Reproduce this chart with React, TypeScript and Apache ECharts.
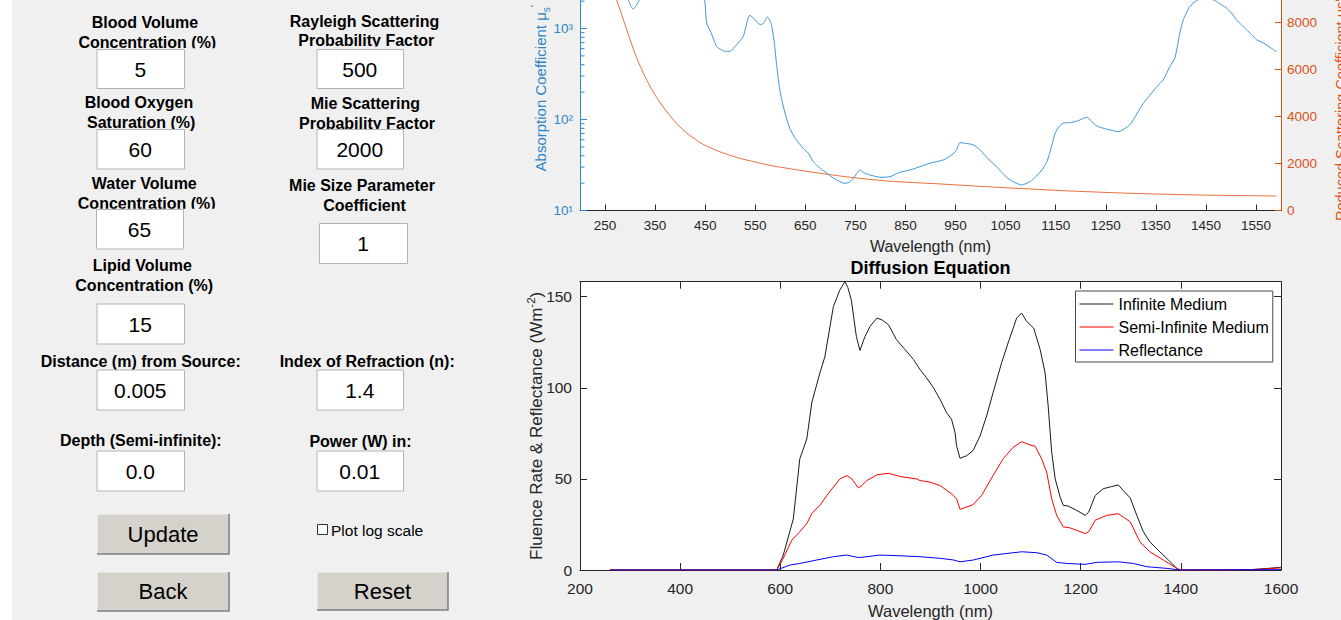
import React, { useEffect, useRef } from 'react';
import * as echarts from 'echarts';

const FONT = "'Liberation Sans', Arial, Helvetica, sans-serif";

// ---------- Top chart data: absorption (log axis) & reduced scattering ----------
const absorptionData: [number, number][] = [
  [200, 4200], [220, 3600], [240, 3100], [260, 2750], [280, 2400], [290, 2200], [296, 2075],
  [301, 1800], [306, 1640], [312, 1780], [319, 2075], [330, 2600], [350, 3300], [380, 4300],
  [415, 4800], [430, 4200], [442, 2700], [449, 2075], [453, 1148], [462, 891], [473, 635],
  [482, 585], [490, 560], [500, 565], [513, 664], [526, 818], [539, 1400], [550, 1250],
  [560, 1100], [567, 1150], [574, 1340], [580, 1200], [583, 1054], [588, 700], [593, 383],
  [598, 230], [603, 164], [610, 115], [619, 80], [630, 62], [646, 48], [656, 42.7], [666, 34.4],
  [680, 29], [693, 25.7], [710, 22], [729, 19.9], [738, 20.5], [746, 22.6], [759, 27.9],
  [767, 26], [779, 24.6], [799, 23.2], [819, 23.5], [839, 26.3], [860, 28], [879, 30.3],
  [899, 33.1], [926, 36], [945, 41.9], [952, 46.4], [959, 55.7], [972, 54.5], [986, 52.6],
  [999, 46.4], [1015, 37], [1032, 30.3], [1046, 25], [1059, 21.7], [1071, 20], [1082, 19.1],
  [1099, 20.8], [1112, 24], [1125, 29.1], [1133, 35], [1139, 44.4], [1149, 70.8], [1157, 84],
  [1165, 91.2], [1179, 92.5], [1195, 97], [1212, 106], [1222, 95], [1232, 85], [1252, 78.3],
  [1275, 73.7], [1298, 87.3], [1312, 115], [1325, 151], [1340, 190], [1352, 230], [1365, 273],
  [1378, 383], [1388, 473], [1398, 891], [1405, 1250], [1418, 1750], [1431, 2024], [1440, 2120],
  [1451, 2140], [1462, 2100], [1471, 1986], [1491, 1681], [1500, 1500], [1511, 1250],
  [1521, 1100], [1531, 970], [1541, 860], [1551, 754], [1565, 693], [1580, 610], [1592, 551],
];

const scatteringData: [number, number][] = [
  [200, 19000], [230, 14500], [250, 11800], [265, 9800], [273, 8986], [280, 8559], [296, 7535],
  [313, 6510], [330, 5699], [346, 5059], [363, 4504], [380, 4034], [396, 3637], [413, 3308],
  [430, 3040], [446, 2818], [463, 2647], [480, 2497], [513, 2262], [546, 2083], [580, 1921],
  [613, 1801], [646, 1690], [679, 1588], [712, 1490], [746, 1400], [812, 1259], [866, 1190],
  [919, 1131], [975, 1058], [1032, 990], [1100, 915], [1165, 845], [1230, 787], [1298, 734],
  [1365, 695], [1432, 662], [1510, 638], [1591, 619],
];

const topXTicks = [250, 350, 450, 550, 650, 750, 850, 950, 1050, 1150, 1250, 1350, 1450, 1550];
const rightYTicks = [0, 2000, 4000, 6000, 8000];
const minorLogTicks = [20, 30, 40, 50, 60, 70, 80, 90, 200, 300, 400, 500, 600, 700, 800, 900, 2000, 3000, 4000];

// ---------- Bottom chart data: diffusion equation ----------
const infiniteMedium: [number, number][] = [
  [260, 0], [400, 0], [500, 0], [593, 0], [606, 8.2], [626, 28], [639, 61], [653, 72], [663, 92],
  [679, 108], [689, 117], [706, 144.5], [719, 153.7], [729, 158.2], [735, 155], [742, 148],
  [752, 128], [759, 120.5], [769, 128], [779, 133.6], [793, 138.2], [803, 137.3], [816, 134.6],
  [832, 126.4], [849, 121], [866, 115.5], [879, 110], [892, 105.5], [906, 100], [919, 93.7],
  [932, 86.4], [942, 82.7], [949, 75.5], [952, 68.2], [959, 61.3], [972, 62.7], [985, 65.5],
  [999, 73.6], [1012, 84.5], [1025, 97.3], [1042, 113.7], [1055, 124.6], [1072, 138.2],
  [1082, 141], [1092, 136.4], [1106, 132.8], [1119, 121], [1129, 108], [1135, 90], [1142, 64.6],
  [1149, 50], [1159, 40], [1165, 35.5], [1175, 35.1], [1192, 32.7], [1209, 30], [1216, 31.8],
  [1229, 40.9], [1245, 44.6], [1262, 45.8], [1275, 46.7], [1285, 43.6], [1299, 39.5],
  [1312, 30], [1325, 21], [1338, 15.5], [1358, 10], [1375, 5.5], [1392, 0.9], [1398, 0],
  [1500, 0], [1540, 0.2], [1570, 0.8], [1600, 1.5],
];

const semiInfiniteMedium: [number, number][] = [
  [260, 0], [593, 0], [606, 6.4], [623, 16.4], [639, 21], [653, 25.5], [663, 31], [679, 35.5],
  [693, 40.9], [706, 45.5], [719, 50], [733, 51.8], [743, 50], [756, 45], [763, 46.4],
  [773, 49.1], [793, 52.2], [816, 53.1], [839, 51.3], [872, 50], [879, 49.1], [899, 48.2],
  [919, 46.4], [942, 41.8], [952, 39.1], [959, 33.3], [985, 35.8], [1002, 40.9], [1025, 51.8],
  [1045, 61], [1065, 67.3], [1082, 70.4], [1099, 68.6], [1109, 67.9], [1122, 61], [1132, 53.7],
  [1142, 39.1], [1152, 30], [1165, 23.7], [1179, 23.1], [1209, 20], [1216, 21], [1229, 27.3],
  [1252, 30], [1275, 30.9], [1299, 26.4], [1318, 15.5], [1338, 10], [1365, 5.5], [1392, 0.9],
  [1398, 0], [1500, 0], [1540, 0.2], [1570, 0.6], [1600, 1.2],
];

const reflectance: [number, number][] = [
  [260, 0], [593, 0], [619, 2.7], [639, 3.6], [673, 5.5], [706, 7.3], [733, 8.2], [756, 6.8],
  [773, 7.3], [799, 8.2], [839, 7.8], [879, 7.3], [919, 6.4], [946, 5.5], [959, 4.5], [986, 5.5],
  [1025, 8.2], [1082, 10], [1112, 9.5], [1132, 8.2], [1152, 4.2], [1172, 3.6], [1209, 3.1],
  [1232, 4.2], [1275, 4.5], [1305, 3.6], [1332, 1.8], [1372, 0.9], [1398, 0], [1600, 0.2],
];

const bottomYTicks = [0, 50, 100, 150];
const legendNames = ['Infinite Medium', 'Semi-Infinite Medium', 'Reflectance'];

// ---------- Form panel content ----------
const formLabels: [string, number, number, number | null][] = [
  ['Blood Volume', 145, 22.7, null],
  ['Concentration (%)', 147.3, 42.7, 48.3],
  ['Blood Oxygen', 139, 102.7, null],
  ['Saturation (%)', 141.2, 122.7, null],
  ['Water Volume', 144.3, 183.3, null],
  ['Concentration (%)', 146.7, 203.3, 208.8],
  ['Lipid Volume', 142.3, 265.7, null],
  ['Concentration (%)', 144.2, 285.7, null],
  ['Distance (m) from Source:', 140.7, 361, null],
  ['Depth (Semi-infinite):', 140.8, 440, null],
  ['Rayleigh Scattering', 364.5, 21.3, null],
  ['Probability Factor', 366.3, 40.7, 46.5],
  ['Mie Scattering', 365.3, 103.3, null],
  ['Probability Factor', 367, 123.3, 129],
  ['Mie Size Parameter', 362, 185.7, null],
  ['Coefficient', 364.5, 205.7, null],
  ['Index of Refraction (n):', 367.2, 361, null],
  ['Power (W) in:', 360.5, 441.7, null],
];

const formBoxes: [string, number, number, number, number][] = [
  ['5', 97, 49.5, 87.5, 39],
  ['60', 97, 129.5, 87.5, 39.5],
  ['65', 96.5, 209.5, 87, 39.5],
  ['15', 97, 304, 87.5, 40],
  ['0.005', 97, 370, 87.5, 40],
  ['0.0', 97, 451, 87.5, 40],
  ['500', 317, 49.5, 86.5, 39],
  ['2000', 317, 129.5, 86.5, 39.5],
  ['1', 319.5, 223.5, 88, 40],
  ['1.4', 317, 370, 86.5, 40],
  ['0.01', 317, 451, 86.5, 40],
];

const formButtons: [string, number, number, number, number][] = [
  ['Update', 97, 514, 132, 40],
  ['Back', 97, 572, 132, 39],
  ['Reset', 317, 572, 131, 38],
];

// The chart canvas starts OFFSET px above the window so the top plot can extend past its edge.
const OFFSET = 34;
const BLUE_AXIS = '#2f86c8';
const BLUE_LINE = '#3d98da';
const ORANGE_AXIS = '#d95319';
const ORANGE_LINE = '#ec6d3c';
const DARK = '#262626';
const SUP: Record<number, string> = { 0: '⁰', 1: '¹', 2: '²', 3: '³', 4: '⁴' };
const plain = (v: number) => String(v);

function buildGraphic() {
  const els: any[] = [];
  const Y = (y: number) => y + OFFSET;
  formLabels.forEach(([t, x, y, cut]) => {
    els.push({
      type: 'text', x, y: Y(y), z: 10,
      style: { text: t, fontSize: 16, fontWeight: 'bold', fontFamily: FONT, fill: '#000', align: 'center', verticalAlign: 'middle' },
    });
    if (cut != null) {
      els.push({ type: 'rect', z: 11, shape: { x: x - 90, y: Y(cut), width: 180, height: 7 }, style: { fill: '#f0f0f0' } });
    }
  });
  formBoxes.forEach(([v, x, y, w, h]) => {
    els.push({ type: 'rect', z: 12, shape: { x, y: Y(y), width: w, height: h }, style: { fill: '#ffffff', stroke: '#b4b4b4', lineWidth: 1 } });
    els.push({
      type: 'text', z: 13, x: x + w / 2 - 0.5, y: Y(y + h / 2),
      style: { text: v, fontSize: 21, fontFamily: FONT, fill: '#000', align: 'center', verticalAlign: 'middle' },
    });
  });
  formButtons.forEach(([t, x, y, w, h]) => {
    const yy = Y(y);
    els.push({ type: 'rect', z: 12, shape: { x, y: yy, width: w, height: h }, style: { fill: '#d5d1cb' } });
    els.push({ type: 'polyline', z: 13, shape: { points: [[x, yy + h], [x, yy], [x + w, yy]] }, style: { stroke: '#f4f4f4', lineWidth: 1, fill: null } });
    els.push({ type: 'polyline', z: 13, shape: { points: [[x, yy + h], [x + w, yy + h], [x + w, yy]] }, style: { stroke: '#7f7f7f', lineWidth: 1.5, fill: null } });
    els.push({
      type: 'text', z: 14, x: x + w / 2, y: yy + h / 2,
      style: { text: t, fontSize: 22, fontFamily: FONT, fill: '#000', align: 'center', verticalAlign: 'middle' },
    });
  });
  els.push({ type: 'rect', z: 12, shape: { x: 317.5, y: Y(524.5), width: 10, height: 10 }, style: { fill: '#ffffff', stroke: '#333333', lineWidth: 1 } });
  els.push({
    type: 'text', z: 12, x: 331, y: Y(530),
    style: { text: 'Plot log scale', fontSize: 15.5, fontFamily: FONT, fill: '#000', align: 'left', verticalAlign: 'middle' },
  });
  els.push({
    type: 'text', z: 12, x: 930.5, y: Y(268),
    style: { text: 'Diffusion Equation', fontSize: 18, fontWeight: 'bold', fontFamily: FONT, fill: '#000', align: 'center', verticalAlign: 'middle' },
  });
  els.push({
    type: 'text', z: 12, x: 1340.5, y: Y(221), rotation: Math.PI / 2,
    style: { text: "Reduced Scattering Coefficient μs'", fontSize: 14.5, fontFamily: FONT, fill: ORANGE_AXIS, align: 'left', verticalAlign: 'middle' },
  });
  return els;
}

function buildOption(): any {
  const tickLabel = (color: string, size: number) => ({ color, fontSize: size, fontFamily: FONT });
  return {
    animation: false,
    backgroundColor: 'transparent',
    grid: [
      { left: 580, right: 60, top: 0, height: 244.5, show: true, backgroundColor: '#ffffff', borderWidth: 0 },
      { left: 580, right: 60, top: 281.7 + OFFSET, height: 290, show: true, backgroundColor: '#ffffff', borderWidth: 0 },
    ],
    xAxis: [
      {
        gridIndex: 0, type: 'value', min: 200, max: 1600, position: 'bottom',
        axisLine: { show: true, onZero: false, lineStyle: { color: DARK, width: 1 } },
        axisTick: { show: true, inside: true, length: 6, customValues: topXTicks, lineStyle: { color: DARK } },
        axisLabel: { ...tickLabel(DARK, 13.5), margin: 8, customValues: topXTicks, formatter: plain },
        splitLine: { show: false },
        name: 'Wavelength (nm)', nameLocation: 'middle', nameGap: 28,
        nameTextStyle: { fontSize: 16, color: DARK, fontFamily: FONT },
      },
      {
        gridIndex: 1, type: 'value', min: 200, max: 1600, interval: 200, position: 'bottom',
        axisLine: { show: true, onZero: false, lineStyle: { color: DARK, width: 1 } },
        axisTick: { show: true, inside: true, length: 7, lineStyle: { color: DARK } },
        axisLabel: { ...tickLabel(DARK, 15.5), margin: 10, formatter: plain },
        splitLine: { show: false },
        name: 'Wavelength (nm)', nameLocation: 'middle', nameGap: 32,
        nameTextStyle: { fontSize: 16.5, color: DARK, fontFamily: FONT },
      },
      {
        gridIndex: 1, type: 'value', min: 200, max: 1600, interval: 200, position: 'top',
        axisLine: { show: true, onZero: false, lineStyle: { color: DARK, width: 1 } },
        axisTick: { show: true, inside: true, length: 7, lineStyle: { color: DARK } },
        axisLabel: { show: false },
        splitLine: { show: false },
      },
    ],
    yAxis: [
      {
        gridIndex: 0, type: 'log', logBase: 10, min: 10, max: 4865, position: 'left',
        axisLine: { show: true, lineStyle: { color: BLUE_AXIS, width: 1 } },
        axisTick: { show: true, inside: true, length: 7, lineStyle: { color: BLUE_AXIS } },
        axisLabel: {
          ...tickLabel(BLUE_AXIS, 13.5), margin: 7, showMaxLabel: false,
          formatter: (v: number) => '10' + (SUP[Math.round(Math.log10(v))] || ''),
        },
        splitLine: { show: false },
        name: "{a|Absorption Coefficient μ}{b|s}{c|'}", nameLocation: 'middle', nameGap: 29,
        nameMoveOverlap: false,
        nameTextStyle: {
          color: BLUE_AXIS, fontSize: 15, fontFamily: FONT,
          rich: {
            a: { color: BLUE_AXIS, fontSize: 15, fontFamily: FONT, lineHeight: 22 },
            b: { color: BLUE_AXIS, fontSize: 10, fontFamily: FONT, lineHeight: 10, verticalAlign: 'bottom' },
            c: { color: BLUE_AXIS, fontSize: 11, fontFamily: FONT, lineHeight: 11, verticalAlign: 'top' },
          },
        },
      },
      {
        gridIndex: 0, type: 'value', min: 0, max: 10416, position: 'right',
        axisLine: { show: true, onZero: false, lineStyle: { color: ORANGE_AXIS, width: 1 } },
        axisTick: { show: true, inside: true, length: 6, customValues: rightYTicks, lineStyle: { color: ORANGE_AXIS } },
        axisLabel: { ...tickLabel(ORANGE_AXIS, 13.5), margin: 6, customValues: rightYTicks, formatter: plain },
        splitLine: { show: false },
      },
      {
        gridIndex: 1, type: 'value', min: 0, max: 158.2, interval: 50, position: 'left',
        axisLine: { show: true, onZero: false, lineStyle: { color: DARK, width: 1 } },
        axisTick: { show: true, inside: true, length: 7, customValues: bottomYTicks, lineStyle: { color: DARK } },
        axisLabel: { ...tickLabel(DARK, 15.5), margin: 8, customValues: bottomYTicks, formatter: plain },
        splitLine: { show: false },
        name: '{a|Fluence Rate & Reflectance (Wm}{b|-2}{a|)}', nameLocation: 'middle', nameGap: 33,
        nameMoveOverlap: false,
        nameTextStyle: {
          color: DARK, fontSize: 17, fontFamily: FONT,
          rich: {
            a: { color: DARK, fontSize: 17, fontFamily: FONT, lineHeight: 22 },
            b: { color: DARK, fontSize: 11.5, fontFamily: FONT, lineHeight: 12, verticalAlign: 'top' },
          },
        },
      },
      {
        gridIndex: 1, type: 'value', min: 0, max: 158.2, interval: 50, position: 'right',
        axisLine: { show: true, onZero: false, lineStyle: { color: DARK, width: 1 } },
        axisTick: { show: true, inside: true, length: 7, customValues: bottomYTicks, lineStyle: { color: DARK } },
        axisLabel: { show: false },
        splitLine: { show: false },
      },
    ],
    legend: {
      data: legendNames, orient: 'vertical', left: 1075.5, top: 291 + OFFSET,
      icon: 'rect', itemWidth: 34, itemHeight: 1.2, itemGap: 7, padding: [5, 4, 4, 4],
      borderColor: '#4a4a4a', borderWidth: 1, backgroundColor: '#ffffff',
      textStyle: { fontSize: 16, color: '#000', fontFamily: FONT },
      selectedMode: false,
    },
    graphic: buildGraphic(),
    series: [
      {
        name: 'Absorption', type: 'line', xAxisIndex: 0, yAxisIndex: 0, data: absorptionData,
        symbol: 'none', smooth: 0.2, lineStyle: { color: BLUE_LINE, width: 1 }, z: 3,
      },
      {
        name: 'Reduced Scattering', type: 'line', xAxisIndex: 0, yAxisIndex: 1, data: scatteringData,
        symbol: 'none', smooth: 0.3, lineStyle: { color: ORANGE_LINE, width: 1 }, z: 2,
      },
      {
        name: 'minorTicks', type: 'custom', xAxisIndex: 0, yAxisIndex: 0, silent: true,
        data: minorLogTicks.map((v) => [200, v]),
        renderItem: (_p: any, api: any) => {
          const p = api.coord([api.value(0), api.value(1)]);
          return { type: 'line', shape: { x1: p[0], y1: p[1], x2: p[0] + 4.5, y2: p[1] }, style: { stroke: BLUE_AXIS, lineWidth: 1 } };
        },
      },
      {
        name: 'Infinite Medium', type: 'line', xAxisIndex: 1, yAxisIndex: 2, data: infiniteMedium,
        symbol: 'none', lineStyle: { color: '#1a1a1a', width: 1 }, itemStyle: { color: '#1a1a1a' }, z: 3,
      },
      {
        name: 'Semi-Infinite Medium', type: 'line', xAxisIndex: 1, yAxisIndex: 2, data: semiInfiniteMedium,
        symbol: 'none', lineStyle: { color: '#ff0000', width: 1 }, itemStyle: { color: '#ff0000' }, z: 3,
      },
      {
        name: 'Reflectance', type: 'line', xAxisIndex: 1, yAxisIndex: 2, data: reflectance,
        symbol: 'none', lineStyle: { color: '#0000ff', width: 1 }, itemStyle: { color: '#0000ff' }, z: 3,
      },
    ],
  };
}

export default function App() {
  const ref = useRef<HTMLDivElement>(null);
  useEffect(() => {
    if (!ref.current) return;
    const chart = echarts.init(ref.current, null, { renderer: 'svg' });
    chart.setOption(buildOption());
    return () => chart.dispose();
  }, []);
  return (
    <div
      ref={ref}
      style={{
        position: 'absolute', left: 0, top: -OFFSET, width: 1341, height: 620 + OFFSET,
        background: 'linear-gradient(to right, #ffffff 12px, #f0f0f0 12px)',
      }}
    />
  );
}
